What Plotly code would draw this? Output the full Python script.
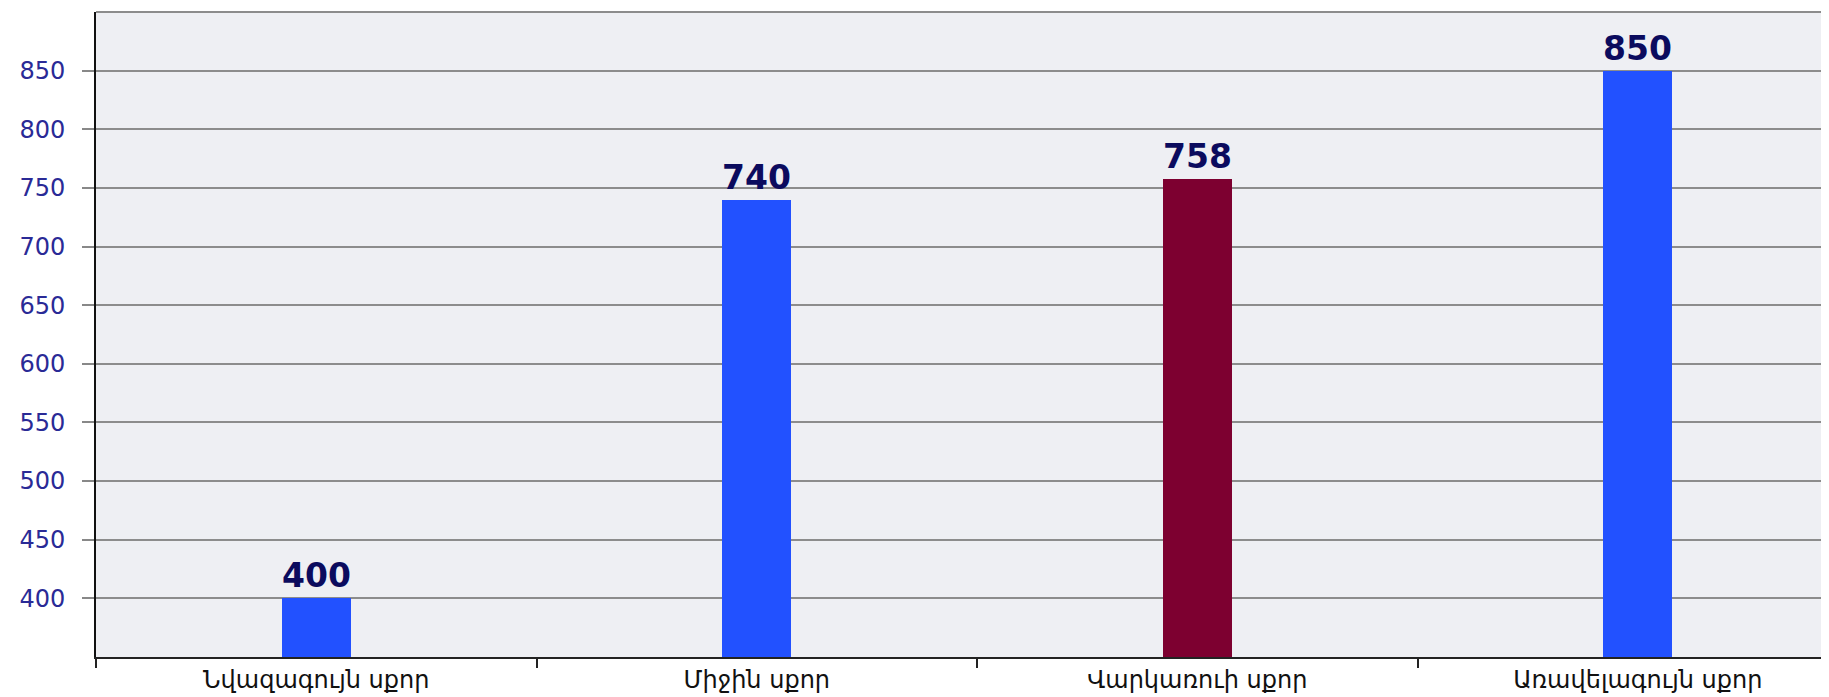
import plotly.graph_objects as go

categories = ["Նվազագույն սքոր", "Միջին սքոր", "Վարկառուի սքոր", "Առավելագույն սքոր"]
values = [400, 740, 758, 850]
bar_colors = ["#2251ff", "#2251ff", "#7d0030", "#2251ff"]
y_ticks = [400, 450, 500, 550, 600, 650, 700, 750, 800, 850]

fig = go.Figure()
fig.add_trace(go.Bar(
    x=categories,
    y=values,
    marker=dict(color=bar_colors, line=dict(width=0)),
    width=0.156,
    text=[str(v) for v in values],
    textposition="outside",
    cliponaxis=False,
    textfont=dict(family="DejaVu Sans", size=33, color="#0b0b5e", weight="bold"),
    hoverinfo="skip",
))

# page body has an 8px default margin: compensate in figure size/margins
fig.update_layout(
    width=1821,
    height=689,
    margin=dict(l=88, r=0, t=4, b=40),
    paper_bgcolor="white",
    plot_bgcolor="#eeeff3",
    showlegend=False,
    bargap=0,
)

fig.update_xaxes(
    type="category",
    range=[-0.5, 3.434],
    automargin=False,
    showline=True,
    linecolor="#222222",
    linewidth=2,
    ticks="outside",
    tickson="boundaries",
    ticklen=9,
    tickwidth=2,
    tickcolor="#222222",
    showgrid=False,
    ticklabelstandoff=0,
    tickfont=dict(family="DejaVu Sans", size=24, color="#111111"),
)

fig.update_yaxes(
    range=[350, 900],
    tickvals=y_ticks,
    automargin=False,
    showline=True,
    linecolor="#111111",
    linewidth=2,
    ticks="outside",
    ticklen=12,
    tickwidth=2,
    tickcolor="#888888",
    showgrid=True,
    gridcolor="#8c8c8c",
    gridwidth=2,
    zeroline=False,
    ticklabelstandoff=12,
    tickfont=dict(family="DejaVu Sans", size=24, color="#2a2a96"),
)

fig.add_shape(type="line", xref="paper", yref="paper", x0=0, x1=1, y0=1, y1=1,
              line=dict(color="#8c8c8c", width=2))

fig.write_html("out.html")
